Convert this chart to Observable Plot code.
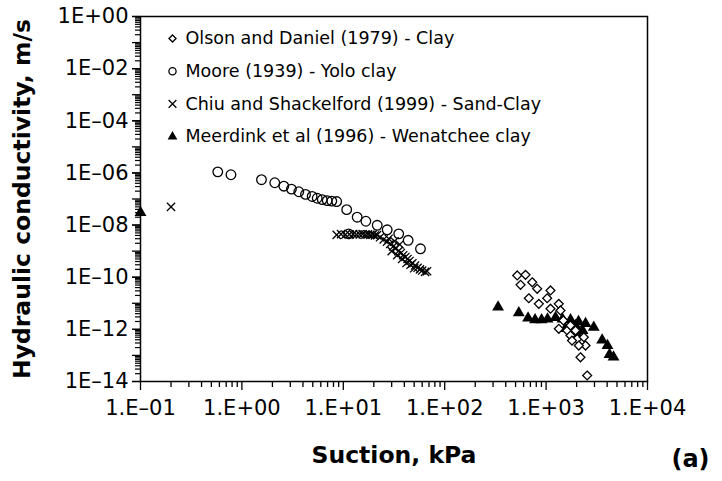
<!DOCTYPE html>
<html><head><meta charset="utf-8">
<script src="https://cdn.jsdelivr.net/npm/d3@7"></script>
<script src="https://cdn.jsdelivr.net/npm/@observablehq/plot@0.6"></script>
<style>body{margin:0;background:#fff}</style>
</head><body><div id="chart"></div>
<script>
// Suction (kPa), hydraulic conductivity (m/s)
const olson = [[519,1.17e-10],[627,1.23e-10],[560,5.1e-11],[730,6.4e-11],[817,3.6e-11],[675,1.56e-11],[848,9.5e-12],[1105,3.1e-11],[1025,1.56e-11],[1105,6.2e-12],[1334,9.5e-12],[1387,5.3e-12],[1334,1.05e-12],[1614,9.1e-13],[1740,5.8e-13],[2027,4.3e-13],[2356,5e-13],[2449,2.4e-13],[2183,8.5e-14],[2541,1.7e-14],[1480,2.2e-12],[1740,1.4e-12],[1950,9e-13],[1800,3.7e-13],[2100,2.4e-13]];
const moore = [[0.578,1.1e-6],[0.78,8.5e-7],[1.56,5.5e-7],[2.11,4.2e-7],[2.59,3.1e-7],[3.08,2.4e-7],[3.64,1.9e-7],[4.24,1.5e-7],[4.93,1.25e-7],[5.53,1.07e-7],[6.2,9.5e-8],[6.94,8.7e-8],[7.7,8.3e-8],[8.6,8e-8],[10.8,3.9e-8],[13.7,2e-8],[16.7,1.4e-8],[21.6,9.8e-9],[27.1,6.6e-9],[35.2,4.6e-9],[43.6,2.6e-9],[57.7,1.23e-9],[11.3,4.6e-9]];
const chiu = [[0.2,5e-8],[8.6,4.2e-9],[9.5,4.5e-9],[10.5,4.3e-9],[11.5,4.4e-9],[12.5,4.5e-9],[13.5,4.3e-9],[14.5,4.4e-9],[15.5,4.5e-9],[16.5,4.3e-9],[17.5,4.4e-9],[18.5,4.2e-9],[19.5,4.3e-9],[20.5,4.0e-9],[21.5,4.1e-9],[23,3.4e-9],[25,2.8e-9],[27,2.3e-9],[29,1.9e-9],[31,1.5e-9],[33,1.3e-9],[35,1.0e-9],[37,8.5e-10],[39,7e-10],[41,6e-10],[43,5e-10],[45,4.2e-10],[48,3.4e-10],[51,2.8e-10],[54,2.3e-10],[57,2e-10],[60,1.8e-10],[64,1.6e-10],[67,1.7e-10],[30,1.0e-9],[34,7e-10],[38,5e-10],[42,3.5e-10],[46,3e-10],[50,2.2e-10],[28,3e-9],[32,2.4e-9],[36,1.8e-9]];
const meerdink = [[0.1,3e-8],[336,7.2e-12],[538,4.3e-12],[664,2.7e-12],[778,2.3e-12],[902,2.3e-12],[1033,2.5e-12],[1239,2.8e-12],[1452,2.5e-12],[1741,2.3e-12],[2088,2e-12],[2449,1.67e-12],[2950,1.2e-12],[3570,3.9e-13],[4030,2.4e-13],[4620,8.7e-14],[4220,1.08e-13],[1550,1.07e-12],[1820,7.6e-13],[2088,5.3e-13],[2290,9e-13],[1950,1.4e-12]];

const seriesNames = ["Olson and Daniel (1979) - Clay","Moore (1939) - Yolo clay","Chiu and Shackelford (1999) - Sand-Clay","Meerdink et al (1996) - Wenatchee clay"];
const xTicks = [0.1,1,10,100,1000,10000];
const xTickLabels = ["1.E\u201301","1.E+00","1.E+01","1.E+02","1.E+03","1.E+04"];
const yTicks = [1,1e-2,1e-4,1e-6,1e-8,1e-10,1e-12,1e-14];
const yTickLabels = ["1E+00","1E\u201302","1E\u201304","1E\u201306","1E\u201308","1E\u201310","1E\u201312","1E\u201314"];
const xTitle = "Suction, kPa";
const yTitle = "Hydraulic conductivity, m/s";
const panelLabel = "(a)";

const xLabelOf = new Map(xTicks.map((t, i) => [t, xTickLabels[i]]));
const yLabelOf = new Map(yTicks.map((t, i) => [t, yTickLabels[i]]));

const xMinor = [], yMinor = [], yMajorAll = [];
for (let e = -1; e < 4; e++) for (let m = 2; m < 10; m++) xMinor.push(m * Math.pow(10, e));
for (let e = -14; e < 0; e++) for (let m = 2; m < 10; m++) yMinor.push(m * Math.pow(10, e));
for (let e = -14; e <= 0; e++) yMajorAll.push(Math.pow(10, e));

const font = "DejaVu Sans, Verdana, sans-serif";
const symbols = ["diamond2","circle","times","triangle"];
const legendDots = seriesNames.map((n, i) => {
  const filled = i === 3;
  return Plot.dot([n], {frameAnchor: "top-left", dx: 32, dy: 22 + i * 32.7, symbol: symbols[i],
    r: [3.2, 3.6, 3.6, 3.6][i], fill: filled ? "black" : "none", stroke: filled ? "none" : "black", strokeWidth: 1.3});
});
const legendTexts = seriesNames.map((n, i) =>
  Plot.text([n], {frameAnchor: "top-left", dx: 45, dy: 22 + i * 32.7, text: d => d, textAnchor: "start", lineAnchor: "middle", fontSize: 17.5, fill: "black"}));

const chart = Plot.plot({
  width: 722, height: 481,
  marginLeft: 140, marginRight: 75, marginTop: 16, marginBottom: 100,
  style: {fontFamily: font, background: "white", color: "black"},
  x: {type: "log", domain: [0.1, 10000]},
  y: {type: "log", domain: [1e-14, 1]},
  marks: [
    Plot.axisX({ticks: xMinor, tickSize: 6, tickFormat: () => "", label: null, strokeWidth: 1.3}),
    Plot.axisX({ticks: xTicks, tickSize: 9, tickPadding: 10, tickFormat: d => xLabelOf.get(d), label: null, fontSize: 21, strokeWidth: 1.3}),
    Plot.axisY({ticks: yMinor, tickSize: 5, tickFormat: () => "", label: null, strokeWidth: 1.2}),
    Plot.axisY({ticks: yMajorAll, tickSize: 8, tickFormat: () => "", label: null, strokeWidth: 1.3}),
    Plot.axisY({ticks: yTicks, tickSize: 8, tickPadding: 4, tickFormat: d => yLabelOf.get(d), label: null, fontSize: 21, strokeWidth: 1.3}),
    Plot.frame({stroke: "black", strokeWidth: 1.5}),
    Plot.dot(meerdink, {x: d => d[0], y: d => d[1], symbol: "triangle", r: 4.4, fill: "black", stroke: "none"}),
    Plot.dot(chiu, {x: d => d[0], y: d => d[1], symbol: "times", r: 3.8, stroke: "black", strokeWidth: 1.3, fill: "none"}),
    Plot.dot(moore, {x: d => d[0], y: d => d[1], symbol: "circle", r: 4.8, stroke: "black", strokeWidth: 1.3, fill: "none"}),
    Plot.dot(olson, {x: d => d[0], y: d => d[1], symbol: "diamond2", r: 4.0, stroke: "black", strokeWidth: 1.3, fill: "white"}),
    ...legendDots, ...legendTexts,
    Plot.text([yTitle], {frameAnchor: "left", dx: -118, rotate: -90, text: d => d, textAnchor: "middle", lineAnchor: "middle", fontSize: 23.5, fontWeight: "bold", fill: "black"}),
    Plot.text([xTitle], {frameAnchor: "bottom", dy: 74, text: d => d, lineAnchor: "middle", fontSize: 23.5, fontWeight: "bold", fill: "black"}),
    Plot.text([panelLabel], {frameAnchor: "bottom-right", dx: 43, dy: 78, text: d => d, textAnchor: "middle", lineAnchor: "middle", fontSize: 24, fontWeight: "bold", fill: "black"})
  ]
});
document.getElementById("chart").appendChild(chart);
</script>
</body></html>
